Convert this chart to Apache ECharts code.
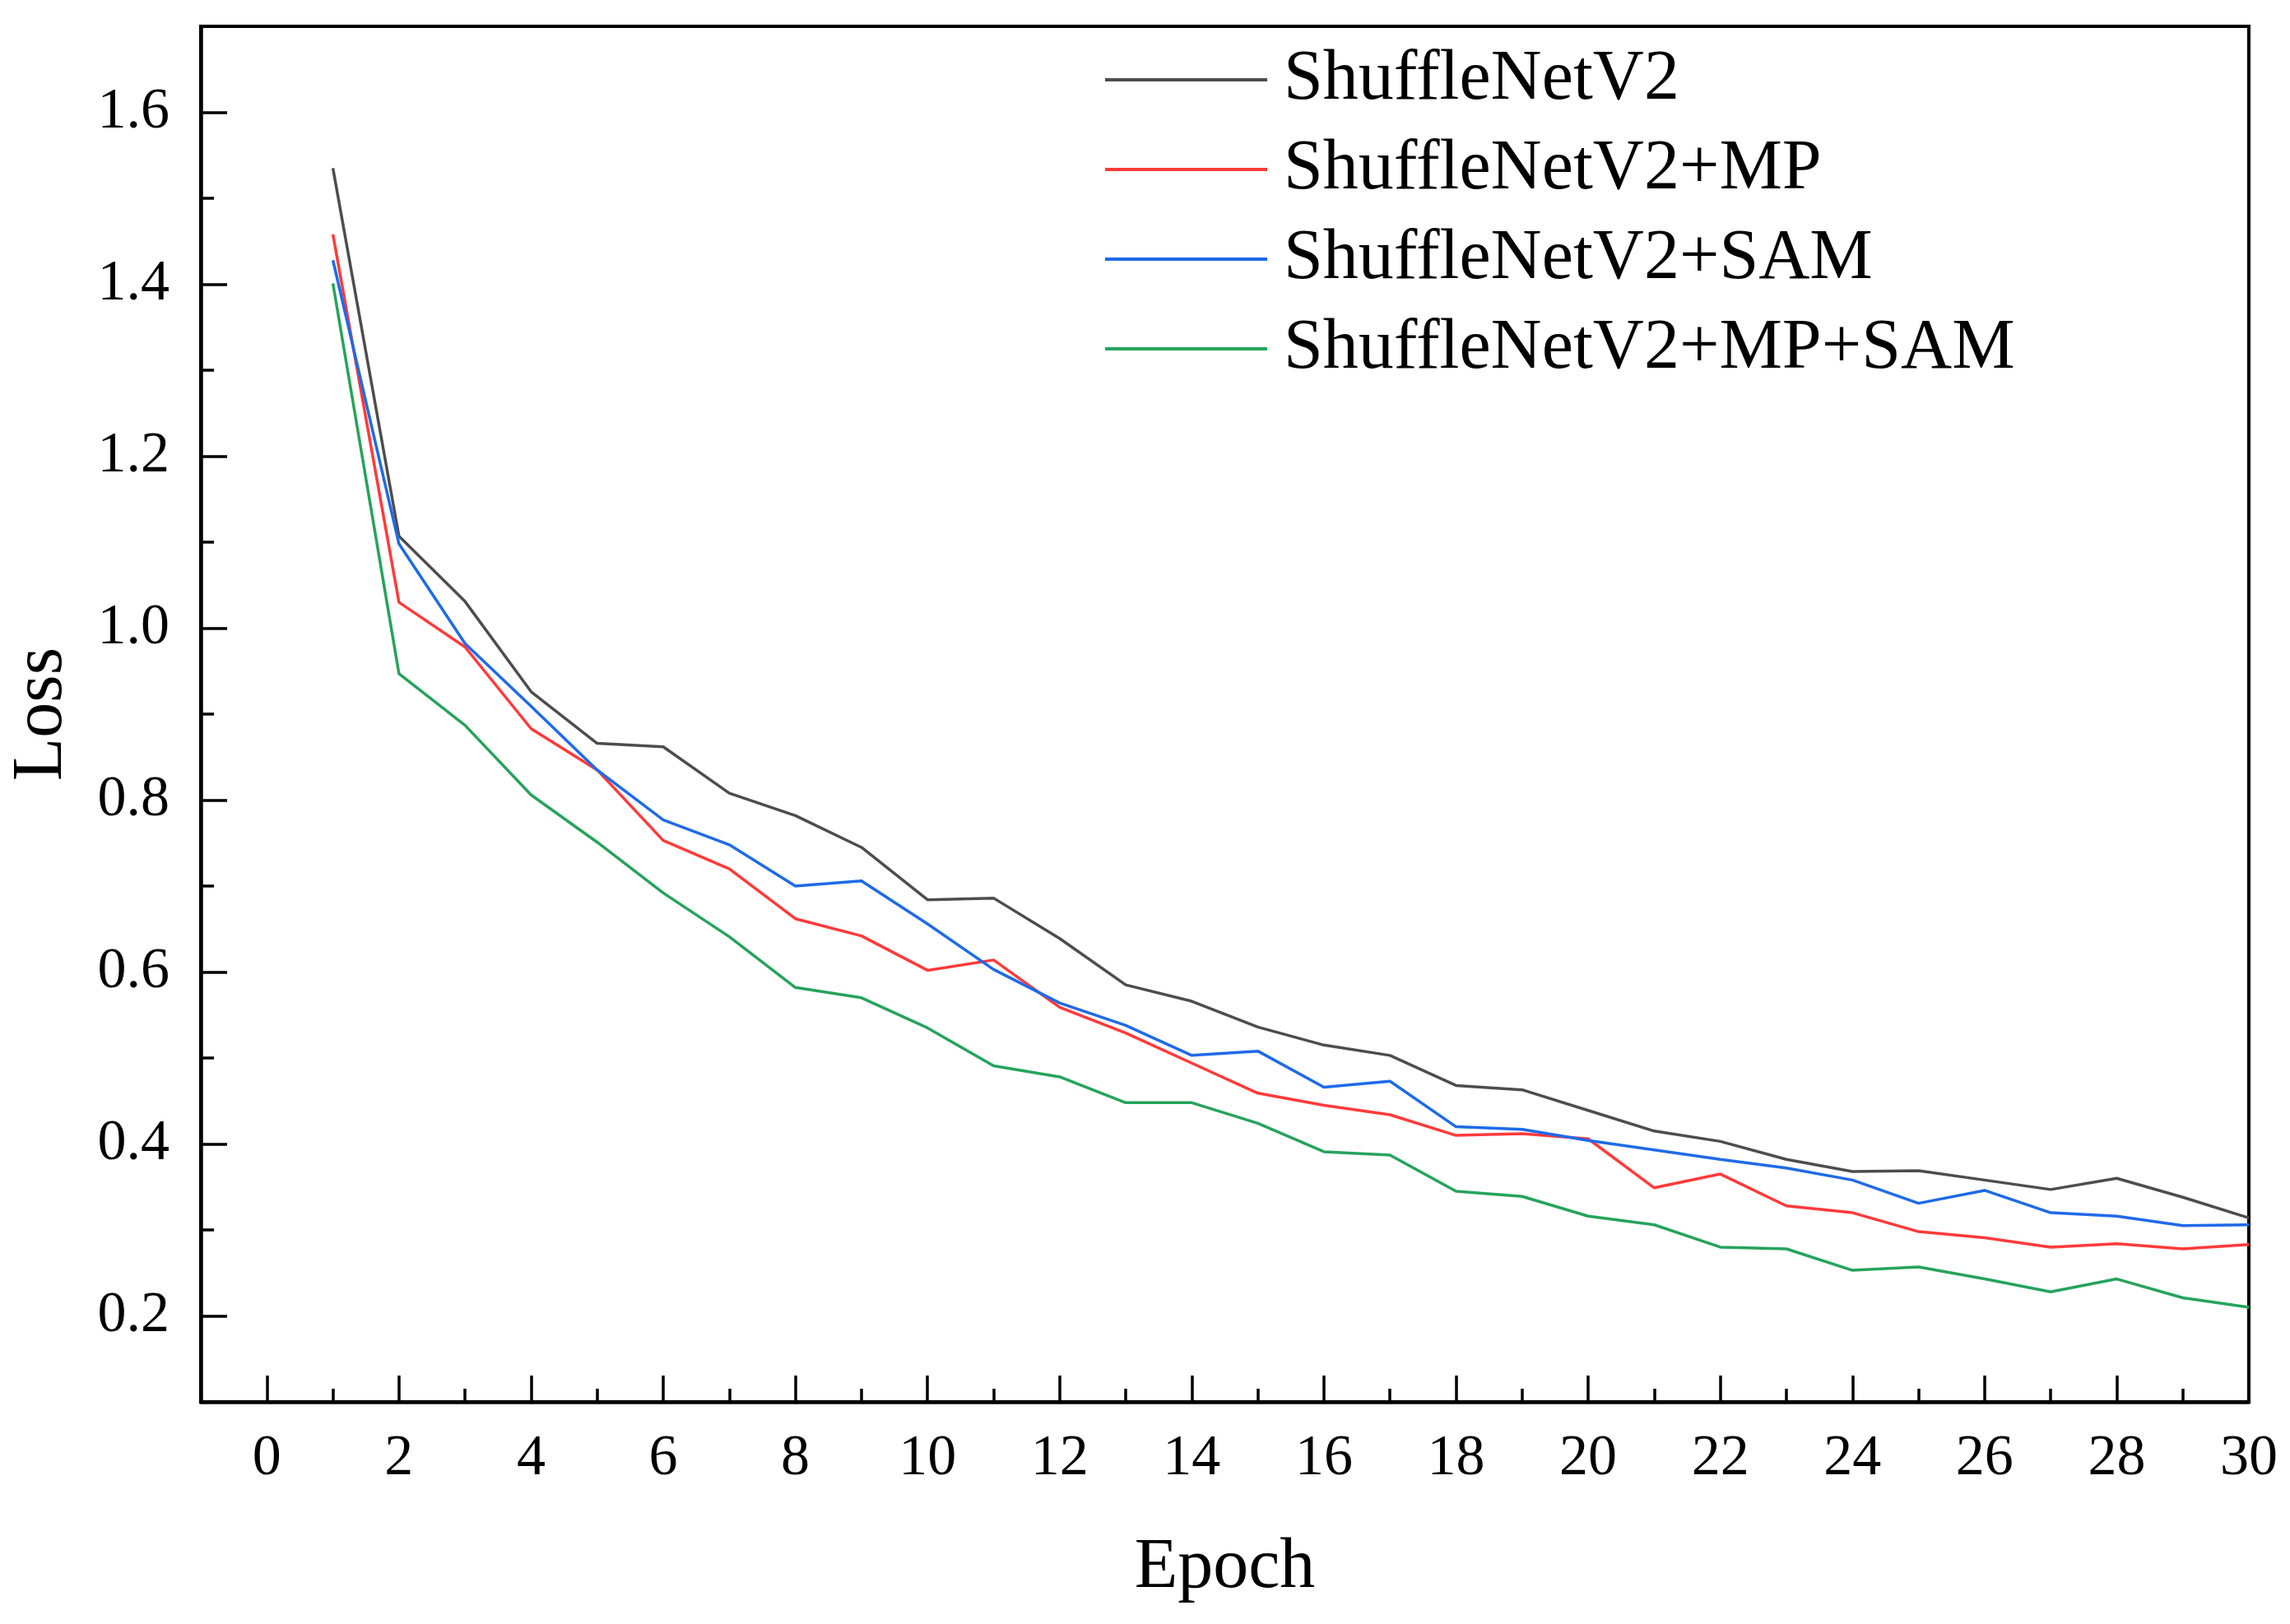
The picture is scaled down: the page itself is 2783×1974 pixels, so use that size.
<!DOCTYPE html>
<html>
<head>
<meta charset="utf-8">
<script src="https://cdn.jsdelivr.net/npm/echarts@6/dist/echarts.min.js"></script>
<style>html,body{margin:0;padding:0;background:#fff;}#c{width:2783px;height:1974px;}</style>
</head>
<body>
<div id="c"></div>
<script>
const epochs = [1,2,3,4,5,6,7,8,9,10,11,12,13,14,15,16,17,18,19,20,21,22,23,24,25,26,27,28,29,30];
const shuffle = [1.535,1.107,1.031,0.926,0.866,0.862,0.808,0.782,0.745,0.684,0.686,0.639,0.585,0.566,0.536,0.515,0.503,0.468,0.463,0.439,0.415,0.403,0.382,0.368,0.369,0.358,0.347,0.360,0.338,0.314];
const shuffleMP = [1.458,1.030,0.978,0.883,0.835,0.753,0.720,0.662,0.642,0.602,0.614,0.559,0.529,0.494,0.459,0.445,0.434,0.410,0.412,0.406,0.349,0.365,0.328,0.320,0.298,0.291,0.280,0.284,0.278,0.283];
const shuffleSAM = [1.428,1.098,0.982,0.909,0.835,0.777,0.748,0.700,0.706,0.656,0.603,0.564,0.538,0.503,0.508,0.466,0.473,0.420,0.417,0.404,0.393,0.382,0.372,0.358,0.331,0.346,0.320,0.316,0.305,0.306];
const shuffleMPSAM = [1.401,0.947,0.887,0.806,0.751,0.692,0.641,0.582,0.570,0.535,0.491,0.478,0.448,0.448,0.424,0.391,0.387,0.345,0.339,0.316,0.306,0.280,0.278,0.253,0.257,0.243,0.228,0.243,0.221,0.210];
const seriesNames = ['ShuffleNetV2','ShuffleNetV2+MP','ShuffleNetV2+SAM','ShuffleNetV2+MP+SAM'];
const xMajorTicks = [0,2,4,6,8,10,12,14,16,18,20,22,24,26,28,30];
const xMinorTicks = [1,3,5,7,9,11,13,15,17,19,21,23,25,27,29];
const yMajorTicks = [0.2,0.4,0.6,0.8,1.0,1.2,1.4,1.6];
const yMinorTicks = [0.3,0.5,0.7,0.9,1.1,1.3,1.5];

const FONT = "'Liberation Serif','Times New Roman',serif";
const colors = ['#4d4d4d','#ff3a3a','#1f6ae8','#26a35c'];
const allValues = [shuffle, shuffleMP, shuffleSAM, shuffleMPSAM];

const chart = echarts.init(document.getElementById('c'));
const axisLineStyle = {color:'#000', width:4.5};
const option = {
  animation:false,
  backgroundColor:'#fff',
  color: colors,
  grid:{left:243, right:50, top:32, bottom:270, show:true, borderColor:'#000', borderWidth:4, backgroundColor:'transparent'},
  legend:{
    show:true,
    orient:'vertical', left:1338, top:49,
    icon:'rect',
    itemWidth:197, itemHeight:4, itemGap:23,
    textStyle:{fontFamily:FONT, fontSize:86, color:'#000', lineHeight:86, padding:[0,0,0,15]},
    data: seriesNames
  },
  xAxis:[{
    type:'value', min:-1, max:30,
    name:'Epoch', nameLocation:'middle', nameGap:159,
    nameTextStyle:{fontFamily:FONT, fontSize:86, color:'#000'},
    axisLine:{show:true, onZero:false, lineStyle:axisLineStyle},
    axisTick:{show:true, inside:true, length:32, lineStyle:{color:'#000', width:3.5}, customValues:xMajorTicks},
    axisLabel:{show:true, customValues:xMajorTicks, fontFamily:FONT, fontSize:70, color:'#000', margin:35},
    splitLine:{show:false}
  },{
    type:'value', min:-1, max:30, position:'bottom',
    axisLine:{show:false, onZero:false},
    axisTick:{show:true, inside:true, length:16, lineStyle:{color:'#000', width:3.5}, customValues:xMinorTicks},
    axisLabel:{show:false},
    splitLine:{show:false}
  }],
  yAxis:[{
    type:'value', min:0.1, max:1.7,
    name:'Loss', nameLocation:'middle', nameGap:150, nameRotate:90,
    nameTextStyle:{fontFamily:FONT, fontSize:86, color:'#000'},
    axisLine:{show:true, onZero:false, lineStyle:axisLineStyle},
    axisTick:{show:true, inside:true, length:32, lineStyle:{color:'#000', width:3.5}, customValues:yMajorTicks},
    axisLabel:{show:true, customValues:yMajorTicks, fontFamily:FONT, fontSize:70, color:'#000', margin:38,
      formatter:v=>v.toFixed(1)},
    splitLine:{show:false}
  },{
    type:'value', min:0.1, max:1.7, position:'left',
    axisLine:{show:false, onZero:false},
    axisTick:{show:true, inside:true, length:16, lineStyle:{color:'#000', width:3.5}, customValues:yMinorTicks},
    axisLabel:{show:false},
    splitLine:{show:false}
  }],
  series: seriesNames.map((n,i)=>({
    name:n, type:'line', xAxisIndex:0, yAxisIndex:0,
    symbol:'none', smooth:false,
    lineStyle:{color:colors[i], width:3.5},
    itemStyle:{color:colors[i]},
    data: epochs.map((e,j)=>[e, allValues[i][j]])
  }))
};
chart.setOption(option);
</script>
</body>
</html>
